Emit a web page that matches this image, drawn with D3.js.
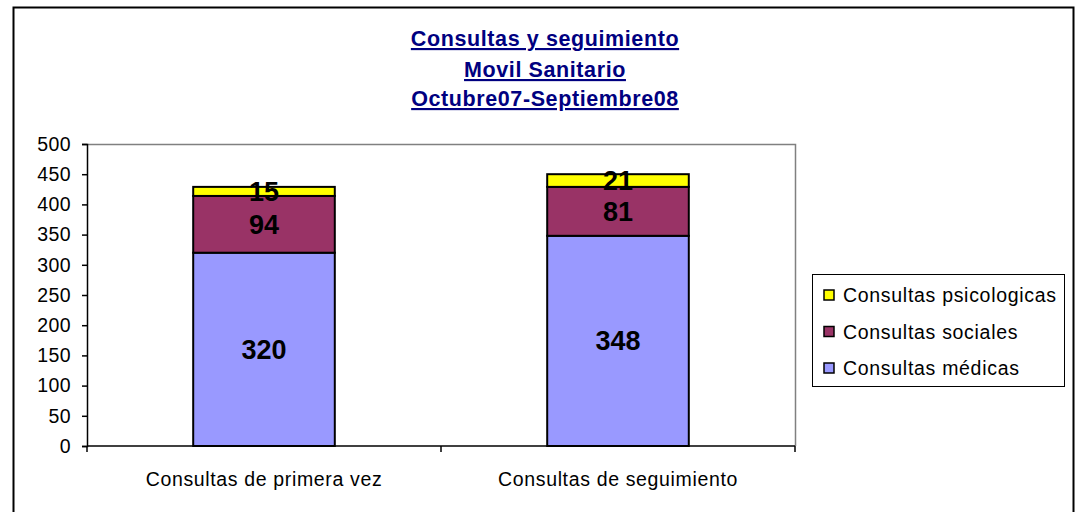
<!DOCTYPE html>
<html>
<head>
<meta charset="utf-8">
<script src="https://cdn.jsdelivr.net/npm/d3@7"></script>
<style>
  html, body { margin: 0; padding: 0; background: #fff; }
  svg { display: block; font-family: Arial, "Liberation Sans", sans-serif; }
</style>
</head>
<body>
<svg id="chart" width="1082" height="512"></svg>
<script>
// Categories (x axis) and the three stacked series
const categories = ["Consultas de primera vez", "Consultas de seguimiento"];
const medicas = [320, 348];
const sociales = [94, 81];
const psicologicas = [15, 21];
const seriesNames = ["Consultas médicas", "Consultas sociales", "Consultas psicologicas"];
const seriesColors = ["#9999FF", "#993366", "#FFFF00"];
const yTicks = [0, 50, 100, 150, 200, 250, 300, 350, 400, 450, 500];
const titleLines = ["Consultas y seguimiento", "Movil Sanitario", "Octubre07-Septiembre08"];

const FONT = "Arial, 'Liberation Sans', sans-serif";
const svg = d3.select("#chart");

// outer chart frame
svg.append("rect")
  .attr("x", 13.5).attr("y", 7.5)
  .attr("width", 1060).attr("height", 520)
  .attr("fill", "#fff").attr("stroke", "#000").attr("stroke-width", 2);

// title
const title = svg.append("g");
const titleBase = [46, 77, 106];
titleLines.forEach((t, i) => {
  title.append("text")
    .attr("x", 545).attr("y", titleBase[i])
    .attr("text-anchor", "middle")
    .attr("font-size", 21.5).attr("font-weight", "bold")
    .attr("letter-spacing", 0.6)
    .attr("fill", "#000080")
    .attr("text-decoration", "underline")
    .text(t);
});

const plot = { left: 87, right: 795, top: 144, bottom: 446 };

const x = d3.scaleBand().domain(categories)
  .range([plot.left, plot.right]).paddingInner(0.6).paddingOuter(0.3);
const y = d3.scaleLinear().domain([0, 500]).range([plot.bottom, plot.top]);

// plot area outline (grey top/right)
svg.append("path")
  .attr("d", `M${plot.left},${plot.top + 0.5}H${plot.right + 0.5}V${plot.bottom}`)
  .attr("fill", "none").attr("stroke", "#808080").attr("stroke-width", 1.5);

// stacked data
const rows = categories.map((c, i) => ({
  cat: c, m: medicas[i], s: sociales[i], p: psicologicas[i]
}));
const stack = d3.stack().keys(["m", "s", "p"])(rows);

const layers = svg.append("g").selectAll("g").data(stack).join("g")
  .attr("fill", (d, i) => seriesColors[i]);

layers.selectAll("rect").data(d => d).join("rect")
  .attr("x", d => x(d.data.cat))
  .attr("width", x.bandwidth())
  .attr("y", d => y(d[1]))
  .attr("height", d => y(d[0]) - y(d[1]))
  .attr("stroke", "#000").attr("stroke-width", 2);

// value labels
layers.selectAll("text").data(d => d.map(v => ({ v, key: d.key }))).join("text")
  .attr("x", d => x(d.v.data.cat) + x.bandwidth() / 2)
  .attr("y", d => (y(d.v[0]) + y(d.v[1])) / 2 + 9.5)
  .attr("text-anchor", "middle")
  .attr("font-size", 27).attr("font-weight", "bold")
  .attr("fill", "#000")
  .text(d => d.v.data[d.key]);

// y axis
const yAxis = svg.append("g")
  .attr("transform", `translate(${plot.left},0)`)
  .call(d3.axisLeft(y).tickValues(yTicks).tickSize(5).tickPadding(11));
yAxis.select(".domain").attr("stroke", "#000").attr("stroke-width", 1.5);
yAxis.selectAll(".tick line").attr("stroke", "#000").attr("stroke-width", 1.5);
yAxis.selectAll(".tick text").attr("font-size", 19.5).attr("fill", "#000")
  .attr("letter-spacing", 0.4).attr("font-family", FONT);

// x axis
const xAxis = svg.append("g")
  .attr("transform", `translate(0,${plot.bottom})`)
  .call(d3.axisBottom(x).tickSize(0).tickPadding(26));
xAxis.select(".domain").attr("d", `M${plot.left},0H${plot.right}`)
  .attr("stroke", "#000").attr("stroke-width", 1.5);
xAxis.selectAll(".tick text").attr("font-size", 19.5).attr("fill", "#000")
  .attr("letter-spacing", 0.65).attr("font-family", FONT);
// category separator ticks
const sepX = [plot.left, (plot.left + plot.right) / 2, plot.right];
svg.append("g").selectAll("line").data(sepX).join("line")
  .attr("x1", d => d).attr("x2", d => d)
  .attr("y1", plot.bottom).attr("y2", plot.bottom + 6)
  .attr("stroke", "#000").attr("stroke-width", 1.5);

// legend
const legend = svg.append("g");
legend.append("rect")
  .attr("x", 812.5).attr("y", 274.5).attr("width", 252).attr("height", 112)
  .attr("fill", "#fff").attr("stroke", "#000").attr("stroke-width", 1);
const legendOrder = [2, 1, 0];
legendOrder.forEach((si, i) => {
  const ly = 295 + i * 36.5;
  legend.append("rect")
    .attr("x", 824).attr("y", ly - 5).attr("width", 10).attr("height", 10)
    .attr("fill", seriesColors[si]).attr("stroke", "#000").attr("stroke-width", 1.5);
  legend.append("text")
    .attr("x", 843).attr("y", ly + 7)
    .attr("font-size", 19.5).attr("letter-spacing", 0.7).attr("fill", "#000")
    .text(seriesNames[si]);
});
</script>
</body>
</html>
